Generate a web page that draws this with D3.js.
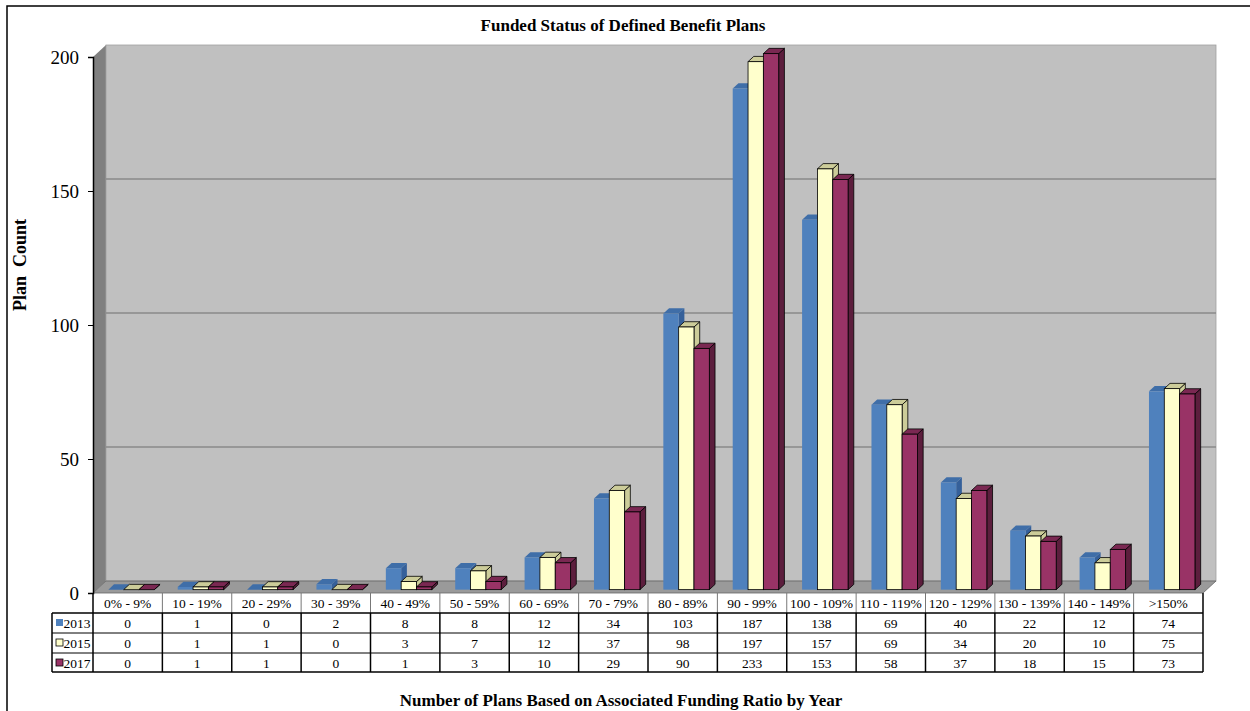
<!DOCTYPE html>
<html>
<head>
<meta charset="utf-8">
<script src="https://cdn.jsdelivr.net/npm/d3@7"></script>
<style>
  body { margin: 0; background: #fff; }
  text { font-family: "Liberation Serif", "Times New Roman", serif; }
</style>
</head>
<body>
<div class="chart"></div>
<script>
const categories = ['0% - 9%', '10 - 19%', '20 - 29%', '30 - 39%', '40 - 49%', '50 - 59%', '60 - 69%', '70 - 79%',
    '80 - 89%', '90 - 99%', '100 - 109%', '110 - 119%', '120 - 129%', '130 - 139%', '140 - 149%', '>150%'];
const years = ['2013', '2015', '2017'];
const values2013 = [0, 1, 0, 2, 8, 8, 12, 34, 103, 187, 138, 69, 40, 22, 12, 74];
const values2015 = [0, 1, 1, 0, 3, 7, 12, 37, 98, 197, 157, 69, 34, 20, 10, 75];
const values2017 = [0, 1, 1, 0, 1, 3, 10, 29, 90, 233, 153, 58, 37, 18, 15, 73];
const yTicks = [0, 50, 100, 150, 200];

const series = [
    { year: years[0], values: values2013, front: '#4f81bd', top: '#3f6ea8', side: '#35609a', stroke: 'none' },
    { year: years[1], values: values2015, front: '#ffffcc', top: '#cccc99', side: '#cccc99', stroke: '#000' },
    { year: years[2], values: values2017, front: '#993366', top: '#7a2852', side: '#5c1e3d', stroke: '#000' }
];

const width = 1250;
const height = 711;
const plotLeft = 93, plotRight = 1203, plotTop = 57, plotBottom = 593;
const depthX = 13, depthY = 12;

const svg = d3.select('.chart')
    .append('svg')
    .attr('width', width)
    .attr('height', height)

// outer frame
svg.append('rect')
    .attr('x', 7).attr('y', 6)
    .attr('width', 1260).attr('height', 720)
    .attr('fill', 'none')
    .attr('stroke', '#000')
    .attr('stroke-width', 1.5)

const x = d3.scaleBand().domain(categories).range([plotLeft, plotRight]);
const y = d3.scaleLinear().domain([0, 200]).range([plotBottom, plotTop]).clamp(true);
const gap = 11.7;
const xs = d3.scaleBand().domain(years).range([gap, x.bandwidth() - gap]);

// side wall
svg.append('polygon')
    .attr('points', [[plotLeft, plotTop], [plotLeft + depthX, plotTop - depthY], [plotLeft + depthX, plotBottom - depthY], [plotLeft, plotBottom]].join(' '))
    .attr('fill', '#808080')

// back wall
svg.append('rect')
    .attr('x', plotLeft + depthX)
    .attr('y', plotTop - depthY)
    .attr('width', plotRight - plotLeft)
    .attr('height', plotBottom - plotTop)
    .attr('fill', '#c0c0c0')
    .attr('stroke', '#a0a0a0')
    .attr('stroke-width', 0.8)

// floor
svg.append('polygon')
    .attr('points', [[plotLeft, plotBottom], [plotLeft + depthX, plotBottom - depthY], [plotRight + depthX, plotBottom - depthY], [plotRight, plotBottom]].join(' '))
    .attr('fill', '#9a9a9a')
    .attr('stroke', '#666')
    .attr('stroke-width', 0.8)

// gridlines on the back wall
svg.selectAll('.grid')
    .data(yTicks.filter(t => t > 0 && t < 200))
    .enter()
    .append('line')
    .attr('x1', plotLeft + depthX)
    .attr('x2', plotRight + depthX)
    .attr('y1', d => y(d) - depthY)
    .attr('y2', d => y(d) - depthY)
    .attr('stroke', '#8a8a8a')
    .attr('stroke-width', 1.5)

// y axis
const yAxis = svg.append('g')
    .attr('transform', `translate(${plotLeft},0)`)
    .call(d3.axisLeft(y).tickValues(yTicks).tickSize(5).tickPadding(9))
yAxis.select('.domain').attr('stroke', '#000').attr('stroke-width', 1.5)
yAxis.selectAll('.tick line').attr('stroke', '#000')
yAxis.selectAll('.tick text')
    .attr('font-family', '"Liberation Serif", serif')
    .attr('font-size', 19)
    .attr('fill', '#000')

// 3D bars
const f0 = 0.28, fd = 0.44;
series.forEach(s => {
    const g = svg.append('g');
    s.values.forEach((v, i) => {
        const x0 = x(categories[i]) + xs(s.year) + f0 * depthX;
        const x1 = x0 + xs.bandwidth();
        const yb = y(0) - f0 * depthY;
        const yt = y(v) - f0 * depthY;
        const dx = fd * depthX, dy = fd * depthY;
        g.append('polygon')
            .attr('points', [[x1, yt], [x1 + dx, yt - dy], [x1 + dx, yb - dy], [x1, yb]].join(' '))
            .attr('fill', s.side)
            .attr('stroke', s.stroke)
            .attr('stroke-width', 0.8)
        g.append('polygon')
            .attr('points', [[x0, yt], [x1, yt], [x1 + dx, yt - dy], [x0 + dx, yt - dy]].join(' '))
            .attr('fill', s.top)
            .attr('stroke', s.stroke)
            .attr('stroke-width', 0.8)
        g.append('rect')
            .attr('x', x0)
            .attr('y', yt)
            .attr('width', x1 - x0)
            .attr('height', yb - yt)
            .attr('fill', s.front)
            .attr('stroke', s.stroke)
            .attr('stroke-width', 0.8)
    })
})

// data table
const rowY = [593, 613, 633, 653, 672];
const legLeft = 52;
const table = svg.append('g');

table.selectAll('.hdr')
    .data(categories)
    .enter()
    .append('text')
    .attr('x', d => x(d) + x.bandwidth() / 2)
    .attr('y', rowY[0] + 15)
    .attr('text-anchor', 'middle')
    .attr('font-size', 13.5)
    .text(d => d)

// header separators
table.selectAll('.hsep')
    .data(categories.slice(1))
    .enter()
    .append('line')
    .attr('x1', d => x(d)).attr('x2', d => x(d))
    .attr('y1', rowY[0]).attr('y2', rowY[1])
    .attr('stroke', '#777')
    .attr('stroke-width', 1)
table.append('line')
    .attr('x1', plotLeft).attr('x2', plotLeft).attr('y1', rowY[0]).attr('y2', rowY[4])
    .attr('stroke', '#000').attr('stroke-width', 1.5)
table.append('line')
    .attr('x1', plotRight).attr('x2', plotRight).attr('y1', rowY[0]).attr('y2', rowY[4])
    .attr('stroke', '#000').attr('stroke-width', 1.5)

// data rows
series.forEach((s, r) => {
    const yRow = rowY[r + 1];
    table.append('line')
        .attr('x1', legLeft).attr('x2', plotRight)
        .attr('y1', yRow).attr('y2', yRow)
        .attr('stroke', '#000').attr('stroke-width', r === 0 ? 1.5 : 1)
    table.append('rect')
        .attr('x', legLeft + 4)
        .attr('y', yRow + 6)
        .attr('width', 7).attr('height', 7)
        .attr('fill', s.front)
        .attr('stroke', s.stroke)
        .attr('stroke-width', 0.8)
    table.append('text')
        .attr('x', legLeft + 11.5)
        .attr('y', yRow + 15)
        .attr('font-size', 13.5)
        .text(s.year)
    table.selectAll('.v' + r)
        .data(s.values)
        .enter()
        .append('text')
        .attr('x', (d, i) => x(categories[i]) + x.bandwidth() / 2)
        .attr('y', yRow + 15)
        .attr('text-anchor', 'middle')
        .attr('font-size', 13.5)
        .text(d => d)
})
table.append('line')
    .attr('x1', legLeft).attr('x2', plotRight)
    .attr('y1', rowY[4]).attr('y2', rowY[4])
    .attr('stroke', '#000').attr('stroke-width', 1.5)
table.append('line')
    .attr('x1', legLeft).attr('x2', legLeft).attr('y1', rowY[1]).attr('y2', rowY[4])
    .attr('stroke', '#000').attr('stroke-width', 1.5)
table.selectAll('.dsep')
    .data(categories.slice(1))
    .enter()
    .append('line')
    .attr('x1', d => x(d)).attr('x2', d => x(d))
    .attr('y1', rowY[1]).attr('y2', rowY[4])
    .attr('stroke', '#000')
    .attr('stroke-width', 1.5)

// titles
svg.append('text')
    .attr('x', 623)
    .attr('y', 31)
    .attr('text-anchor', 'middle')
    .attr('font-size', 17)
    .attr('font-weight', 'bold')
    .text('Funded Status of Defined Benefit Plans')

svg.append('text')
    .attr('transform', 'translate(26,265) rotate(-90)')
    .attr('text-anchor', 'middle')
    .attr('font-size', 18)
    .attr('font-weight', 'bold')
    .style('white-space', 'pre')
    .text('Plan  Count')

svg.append('text')
    .attr('x', 621)
    .attr('y', 706)
    .attr('text-anchor', 'middle')
    .attr('font-size', 17)
    .attr('font-weight', 'bold')
    .text('Number of Plans Based on Associated Funding Ratio by Year')
</script>
</body>
</html>
